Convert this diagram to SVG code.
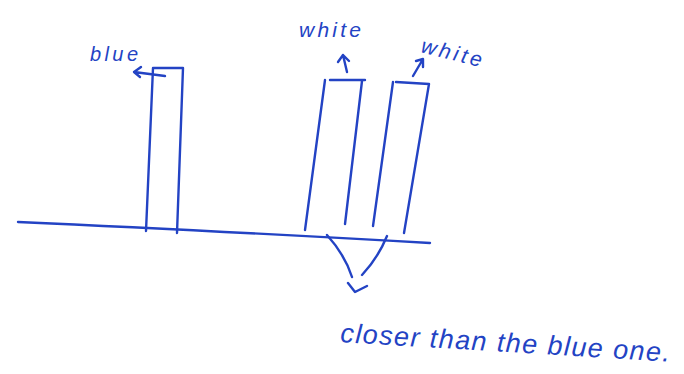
<svg xmlns="http://www.w3.org/2000/svg" width="684" height="374" viewBox="0 0 684 374">
<style>
.ink{fill:none;stroke:#2343c4;stroke-width:2.4;stroke-linecap:round;stroke-linejoin:round}
.lbl{fill:#2343c4;font-family:"Liberation Sans","DejaVu Sans",sans-serif;font-style:italic}
</style>
<rect width="684" height="374" fill="#ffffff"/>
<g id="ground"><path class="ink" d="M18,222 Q200,230 430,243"/></g>
<g id="blue-bar">
<path class="ink" d="M153,68 L146,231 M154,68 L183,68 L177,233"/>
<text class="lbl" x="90" y="61" font-size="20" textLength="48">blue</text>
</g>
<g id="white-bar-1">
<path class="ink" d="M325,80 L305,230 M330,80 L365,80 M362,81 L345,224"/>
<text class="lbl" x="299" y="37" font-size="21" textLength="62">white</text>
</g>
<g id="white-bar-2">
<path class="ink" d="M393,82 L373,226 M396,82 L429,84 L404,233"/>
<text class="lbl" x="0" y="0" font-size="21" textLength="62" transform="translate(420,52) rotate(14)">white</text>
</g>
<g id="caption">
<text class="lbl" x="0" y="0" font-size="27" textLength="330" transform="translate(340,342) rotate(3.4)">closer than the blue one.</text>
</g>
<g id="connectors">
<path class="ink" d="M165,76 L134,72 M141,67 L134,72 L140,77"/>
<path class="ink" d="M347,72 L343,55 M338,62 L343,55 L349,61"/>
<path class="ink" d="M413,76 L423,59 M416,61 L423,59 L423,67"/>
<path class="ink" d="M327,235 Q345,255 352,277 M387,236 Q378,258 362,275 M348,283 L355,292 L367,286"/>
</g>
</svg>
